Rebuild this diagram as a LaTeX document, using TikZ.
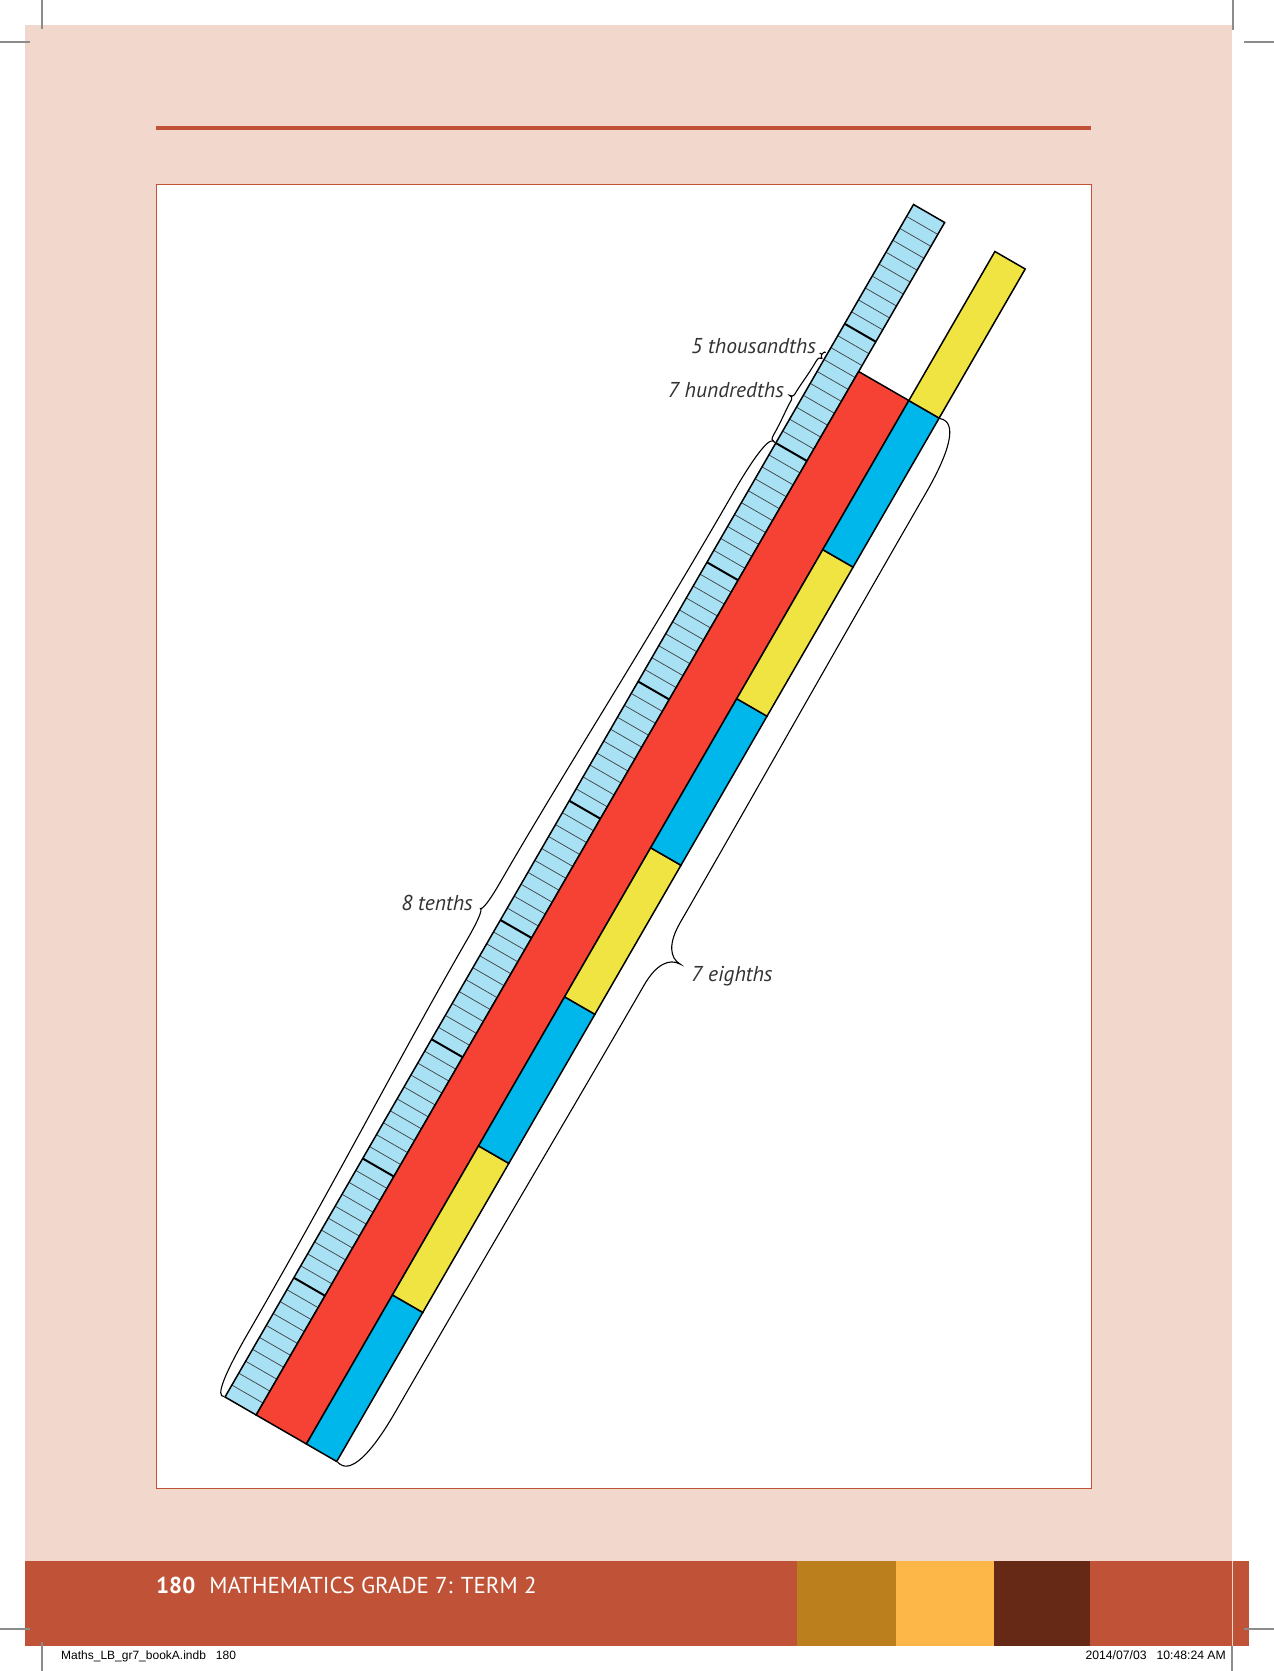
\documentclass[tikz,border=0pt]{standalone}
\usepackage{fontspec}
\setmainfont{PT Sans}
\newfontfamily\smallfont{Liberation Sans}
\definecolor{pagepink}{RGB}{242,215,204}
\definecolor{bandred}{RGB}{192,83,55}
\definecolor{goldblk}{RGB}{188,127,30}
\definecolor{orangeblk}{RGB}{253,183,72}
\definecolor{brownblk}{RGB}{101,41,22}
\definecolor{hatchblue}{RGB}{168,224,244}
\definecolor{barred}{RGB}{246,66,52}
\definecolor{barblue}{RGB}{0,183,235}
\definecolor{baryellow}{RGB}{240,228,66}
\definecolor{labelgray}{RGB}{50,50,50}
\definecolor{cropgray}{RGB}{140,140,140}
\newcommand\curlybrace[7]{%
 \pgfmathsetmacro\zbA{#1}\pgfmathsetmacro\zbB{#2}%
 \pgfmathsetmacro\zbL{(#2-#1)/2}\pgfmathsetmacro\zbM{(#1+#2)/2}%
 \pgfmathsetmacro\zsA{#3+(#4)*0.7*#5}%
 \pgfmathsetmacro\zsB{#3+(#4)*#5}%
 \pgfmathsetmacro\zsC{#3+(#4)*#6}%
 \pgfmathsetmacro\zsD{#3+(#4)*(#6+0.4*(#7-#6))}%
 \pgfmathsetmacro\zsE{#3+(#4)*#7}%
 \draw[bracestyle] (\zbA,#3) .. controls ({\zbA-0.01*\zbL},\zsA) and ({\zbA+0.04*\zbL},\zsB) .. ({\zbA+0.12*\zbL},\zsB)
   .. controls ({\zbA+0.45*\zbL},\zsB) and ({\zbM-0.3*\zbL},\zsC) .. ({\zbM-0.06*\zbL},\zsC)
   .. controls ({\zbM-0.02*\zbL},\zsC) and (\zbM,\zsD) .. (\zbM,\zsE)
   .. controls (\zbM,\zsD) and ({\zbM+0.02*\zbL},\zsC) .. ({\zbM+0.06*\zbL},\zsC)
   .. controls ({\zbM+0.3*\zbL},\zsC) and ({\zbB-0.45*\zbL},\zsB) .. ({\zbB-0.12*\zbL},\zsB)
   .. controls ({\zbB-0.04*\zbL},\zsB) and ({\zbB+0.01*\zbL},\zsA) .. (\zbB,#3);%
}
% a box in the rotated frame: along from #1 to #2, across from #3 to #4
\newcommand\stripbox[5]{%
 \path[#5] (#1,#3) -- (#2,#3) -- (#2,#4) -- (#1,#4) -- cycle;%
}
\begin{document}
\begin{tikzpicture}[x=1pt,y=1pt,
  bracestyle/.style={draw=black, line width=1.1pt},
  lbl/.style={font=\itshape\fontsize{21.5}{22}\selectfont, text=labelgray, inner sep=0pt},
  crop/.style={draw=cropgray, line width=1.4pt},
  outline/.style={draw=black, line width=1.5pt, line join=miter},
  thin hatch/.style={draw=black!75, line width=0.7pt},
  thick hatch/.style={draw=black, line width=2pt}]
\useasboundingbox (0,0) rectangle (1274,1671);
\fill[white] (0,0) rectangle (1274,1671);
% page
\fill[pagepink] (25,110) rectangle (1232,1646);
% footer band
\fill[bandred] (25,25) rectangle (1249,110);
\fill[goldblk] (797,25) rectangle (896,110);
\fill[orangeblk] (896,25) rectangle (994,110);
\fill[brownblk] (994,25) rectangle (1090,110);
\draw[pagepink, line width=0.8pt] (1232,25) -- (1232,110);
% header rule
\fill[bandred] (156,1541) rectangle (1091,1545);
% white frame
\draw[bandred, line width=1pt, fill=white] (156,182) rectangle (1091,1486);
% crop marks
\draw[crop] (42,1671) -- (42,1642);
\draw[crop] (0,1629) -- (30,1629);
\draw[crop] (1233,1671) -- (1233,1641);
\draw[crop] (1244,1629) -- (1274,1629);
\draw[crop] (0,42) -- (30,42);
\draw[crop] (1244,42) -- (1274,42);
\draw[crop] (42,0) -- (42,29);
\draw[crop] (1232,0) -- (1232,25);
% footer texts
\node[anchor=base west, text=white, inner sep=0pt,
  font=\fontsize{23}{24}\selectfont] (foot) at (156,77)
  {\textbf{180}\hspace{14pt}MATHEMATICS GRADE 7: TERM 2};
\node[anchor=base west, inner sep=0pt, font=\smallfont\fontsize{12}{12}\selectfont]
  (fileinfo) at (61,11) {Maths\_LB\_gr7\_bookA.indb\hspace{10pt}180};
\node[anchor=base east, inner sep=0pt, font=\smallfont\fontsize{12.2}{12}\selectfont]
  (dateinfo) at (1226,11) {2014/07/03\hspace{10pt}10:48:24 AM};
% strips
\begin{scope}[shift={(225pt,274pt)}, x={(0.5pt,0.866pt)}, y={(0.866pt,-0.5pt)}]
  % hatched thousandths strip
  \stripbox{0}{1377}{0}{36}{fill=hatchblue}
  \foreach \k in {1,...,99}{
    \pgfmathtruncatemacro\km{mod(\k,10)}
    \ifnum\km=0
      \draw[thick hatch] ({\k*13.77},0) -- ({\k*13.77},36);
    \else
      \draw[thin hatch] ({\k*13.77},0) -- ({\k*13.77},36);
    \fi
  }
  \stripbox{0}{1377}{0}{36}{outline}
  % red bar
  \stripbox{0}{1204.9}{36}{94}{outline, fill=barred}
  % eighths strip
  \foreach \k in {0,...,7}{
    \pgfmathtruncatemacro\km{mod(\k,2)}
    \pgfmathsetmacro\ka{\k*172.125}
    \pgfmathsetmacro\kb{(\k+1)*172.125}
    \ifnum\km=0
      \stripbox{\ka}{\kb}{94}{129}{outline, fill=barblue}
    \else
      \stripbox{\ka}{\kb}{94}{129}{outline, fill=baryellow}
    \fi
  }
  % braces
  \curlybrace{0}{1101.6}{-1}{-1}{11}{18}{22}
  \curlybrace{1101.6}{1198}{-2}{-1}{4}{6}{10}
  \curlybrace{1198}{1205}{-2}{-1}{1.5}{2.5}{5}
  \curlybrace{0}{1204.9}{130}{1}{25}{27}{48}
\end{scope}
% labels
\node[lbl, anchor=base east] (l5) at (816,1317) {5 thousandths};
\node[lbl, anchor=base east] (l7h) at (784,1273) {7 hundredths};
\node[lbl, anchor=base east] (l8) at (473,760) {8 tenths};
\node[lbl, anchor=base west] (l7e) at (691,689) {7 eighths};
\end{tikzpicture}
\end{document}
